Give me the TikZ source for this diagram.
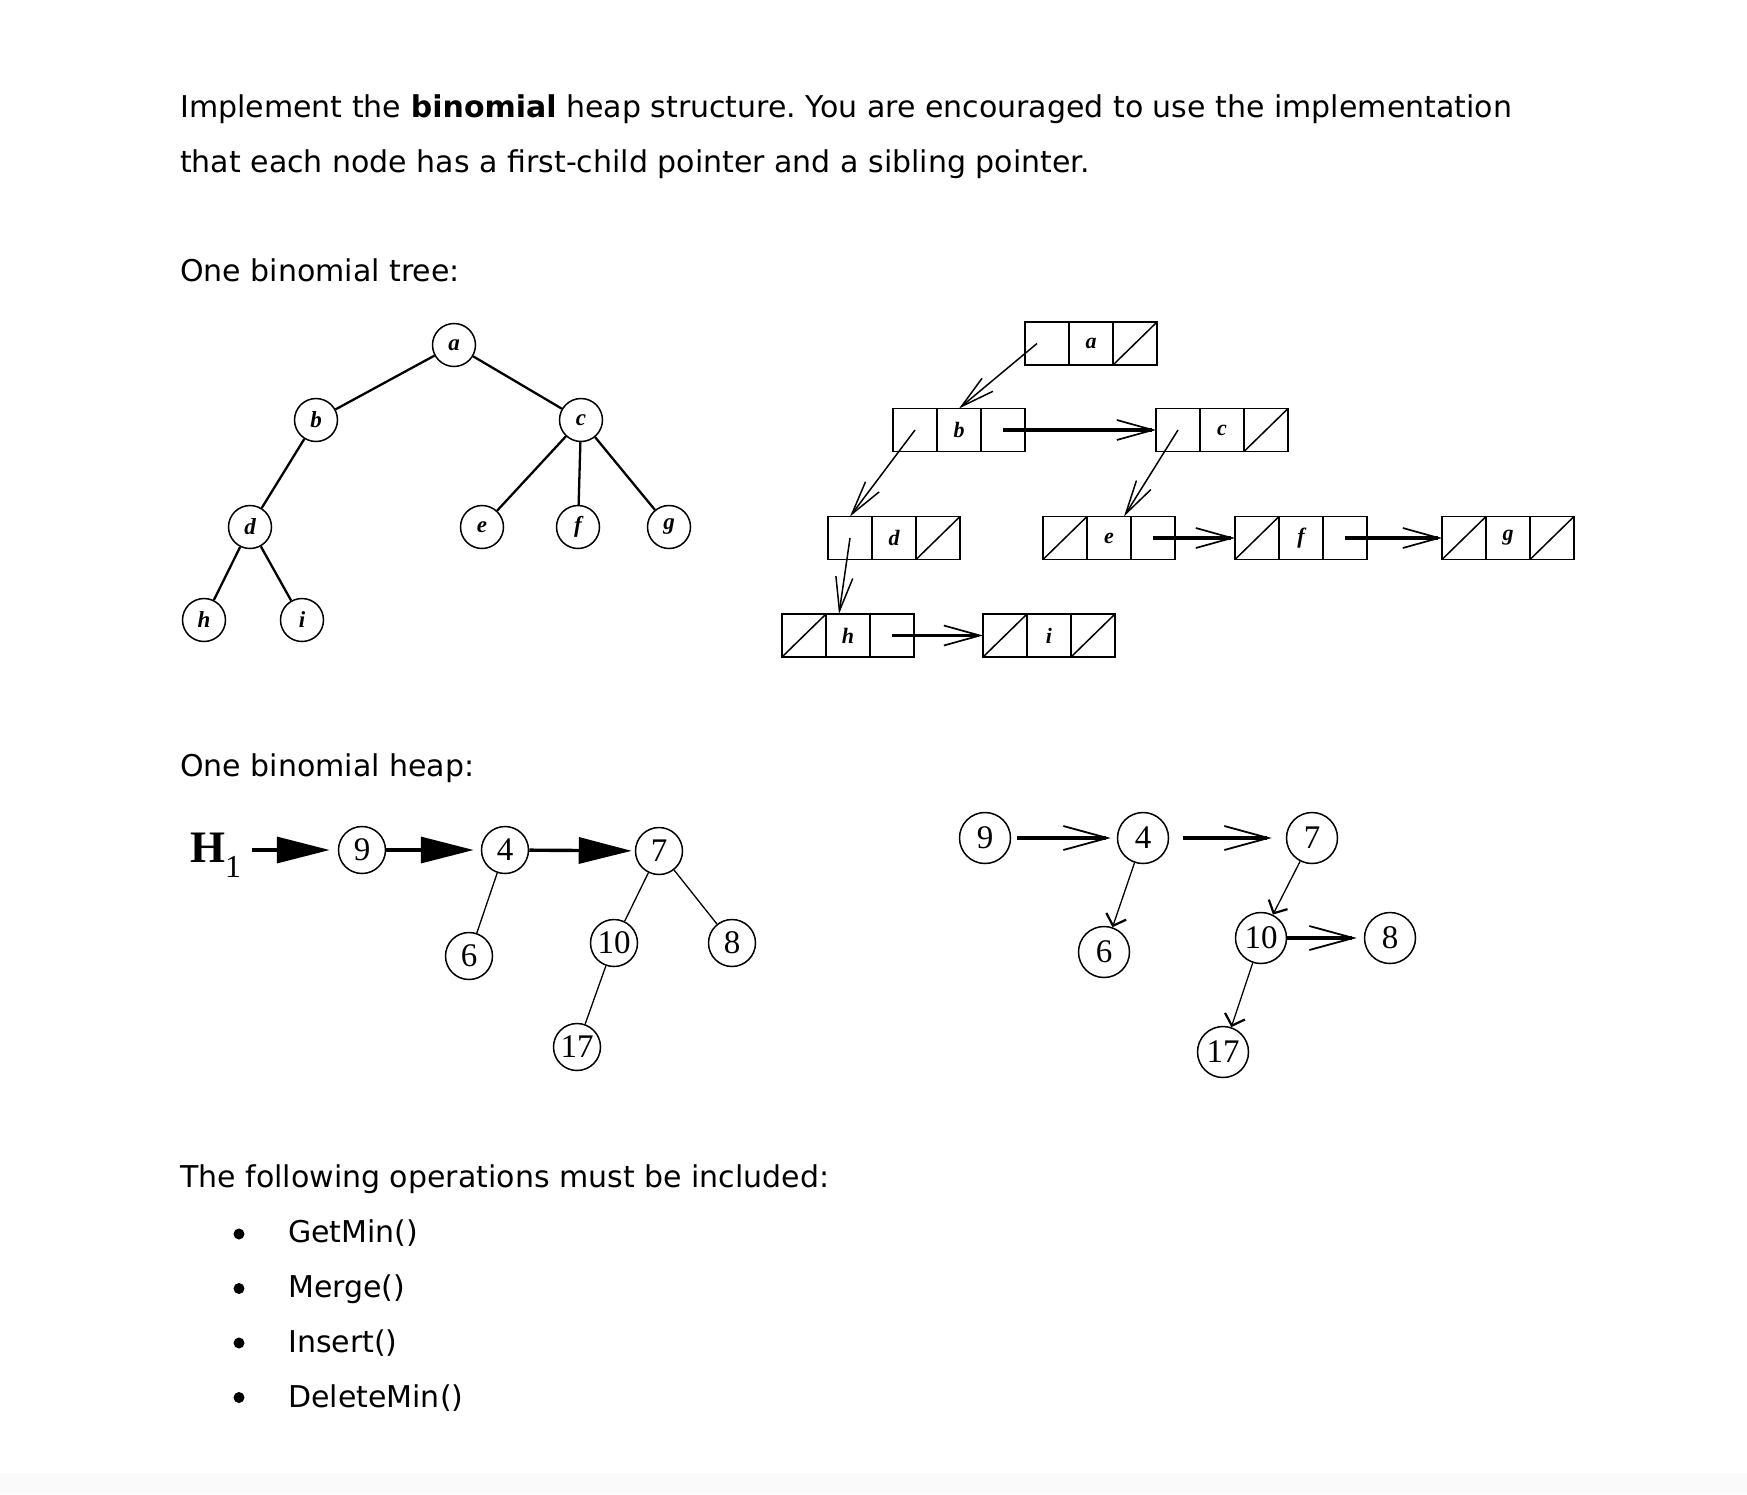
\documentclass[tikz,border=0pt]{standalone}
\usepackage{fontspec}
\setmainfont{DejaVu Sans}
\newfontfamily\numfont{Liberation Serif}
\usetikzlibrary{arrows.meta,positioning}
\frenchspacing
\tikzset{para/.style = {anchor=base west, inner sep=0pt, font=\fontsize{30}{36}\selectfont},
         dot/.style = {circle, fill, minimum size=11pt, inner sep=0pt},
         treenode/.style = {circle, draw, line width=1.5pt, minimum size=43pt, inner sep=0pt,
                            font=\numfont\bfseries\itshape\fontsize{23}{23}\selectfont},
         treeedge/.style = {line width=2.3pt},
         cell/.style = {rectangle, draw, line width=1.5pt, minimum width=44pt, minimum height=43pt,
                        inner sep=0pt, outer sep=0pt, font=\numfont\bfseries\itshape\fontsize{22}{22}\selectfont},
         nullptr/.style = {line width=1.5pt},
         childptr/.style = {line width=1.5pt, -{Straight Barb[length=34pt,width=17pt]}},
         sibptr/.style = {line width=3.6pt, -{Straight Barb[length=36pt,width=20pt,line width=1.7pt]}},
         heapnode/.style = {circle, draw, line width=1.5pt, minimum size=47pt, inner sep=0pt,
                            font=\numfont\fontsize{33}{33}\selectfont},
         heapedge/.style = {line width=1.3pt},
         rootptr/.style = {line width=3.4pt, -{Triangle[length=53pt,width=26pt]}},
         rootsib/.style = {line width=3.4pt, -{Straight Barb[length=44pt,width=24pt,line width=1.8pt]}},
         kidptr/.style = {line width=1.3pt, -{Straight Barb[length=10pt,width=21pt,line width=2.2pt]}}}

\begin{document}
\begin{tikzpicture}[x=1pt, y=-1pt]
    \useasboundingbox (0,0) rectangle (1747,1494);
    \fill[black!2] (0,1473) rectangle (1747,1494);

    % text
    \node[para] (intro1) at (180,117) {Implement the \textbf{binomial} heap structure. You are encouraged to use the implementation};
    \node[para] (intro2) at (180,172) {that each node has a first-child pointer and a sibling pointer.};
    \node[para] (treelbl) at (180,281) {One binomial tree:};
    \node[para] (heaplbl) at (180,776) {One binomial heap:};
    \node[para] (opslbl) at (180,1187) {The following operations must be included:};
    \foreach \op [count=\k] in {GetMin(),Merge(),Insert(),DeleteMin()} {
      \node[dot] (dot\k) at (239,{1234+(\k-1)*54.5}) {};
      \node[para] (op\k) at (288,{1242+(\k-1)*55}) {\op};
    }

    % binomial tree
    \node[treenode] (ta) at (454,345) {a};
    \node[treenode] (tb) at (316,420) {b};
    \node[treenode] (tc) at (581,420) {c};
    \node[treenode] (td) at (250,527) {d};
    \node[treenode] (te) at (482,527) {e};
    \node[treenode] (tf) at (578,527) {f};
    \node[treenode] (tg) at (669,527) {g};
    \node[treenode] (th) at (204,620) {h};
    \node[treenode] (ti) at (302,620) {i};
    \foreach \p/\q in {ta/tb, ta/tc, tb/td, td/th, td/ti, tc/te, tc/tf, tc/tg}
      \draw[treeedge] (\p) -- (\q);

    % child/sibling boxes
    \foreach \n/\x/\y/\l/\r in {a/1047/343.5/0/1, b/915/430/0/0, c/1178/430/0/1,
                                d/850/538/0/1, e/1065/538/1/0, f/1257/538/1/0, g/1464/538/1/1,
                                h/804/635.5/1/0, i/1005/635.5/1/1} {
      \node[cell] (\n-l) at (\x,\y) {};
      \node[cell, right=0pt of \n-l] (\n) {\n};
      \node[cell, right=0pt of \n] (\n-r) {};
      \ifnum\l=1 \draw[nullptr] (\n-l.south west) -- (\n-l.north east); \fi
      \ifnum\r=1 \draw[nullptr] (\n-r.south west) -- (\n-r.north east); \fi
    }
    \draw[childptr] ([xshift=-10pt]a-l.center) -- (b.north);
    \draw[childptr] (b-l.center) -- (d-l.north);
    \draw[childptr] (d-l.center) -- ([xshift=-9pt]h.north);
    \draw[childptr] (c-l.center) -- ([xshift=15pt]e.north);
    \draw[sibptr] (b-r.center) -- (c-l.west);
    \draw[sibptr] (h-r.center) -- (i-l.west);
    \draw[sibptr] (e-r.center) -- (f-l.west);
    \draw[sibptr] (f-r.center) -- (g-l.west);

    % binomial heap
    \node[anchor=base west, inner sep=0pt, font=\numfont] (H) at (190,862)
      {{\fontsize{45}{45}\selectfont\bfseries H}{\fontsize{32}{32}\selectfont\raisebox{-15pt}{1}}};
    \node[heapnode] (n9) at (362,850) {9};
    \node[heapnode] (n4) at (505,850) {4};
    \node[heapnode] (n7) at (659,851) {7};
    \node[heapnode] (n6) at (469,956) {6};
    \node[heapnode] (n10) at (614,943) {10};
    \node[heapnode] (n8) at (732,943) {8};
    \node[heapnode] (n17) at (577,1047) {17};
    \draw[rootptr, shorten <=11pt, shorten >=8pt] (H.east |- n9) -- (n9);
    \draw[rootptr, shorten >=7pt] (n9) -- (n4);
    \draw[rootptr, shorten >=3pt] (n4) -- (n7);
    \foreach \p/\q in {n4/n6, n7/n10, n7/n8, n10/n17}
      \draw[heapedge] (\p) -- (\q);

    % same heap with pointers
    \node[heapnode, minimum size=51pt] (m9) at (985,838) {9};
    \node[heapnode, minimum size=51pt] (m4) at (1143,838) {4};
    \node[heapnode, minimum size=51pt] (m7) at (1312,838) {7};
    \node[heapnode, minimum size=51pt] (m6) at (1104,952) {6};
    \node[heapnode, minimum size=51pt] (m10) at (1261,938) {10};
    \node[heapnode, minimum size=51pt] (m8) at (1390,938) {8};
    \node[heapnode, minimum size=51pt] (m17) at (1223,1052) {17};
    \draw[rootsib, shorten <=6pt, shorten >=6pt] (m9) -- (m4);
    \draw[rootsib, shorten <=14pt, shorten >=14pt] (m4) -- (m7);
    \draw[rootsib, shorten >=7pt] (m10) -- (m8);
    \foreach \p/\q in {m4/m6, m7/m10, m10/m17}
      \draw[kidptr] (\p) -- (\q);
\end{tikzpicture}
\end{document}
